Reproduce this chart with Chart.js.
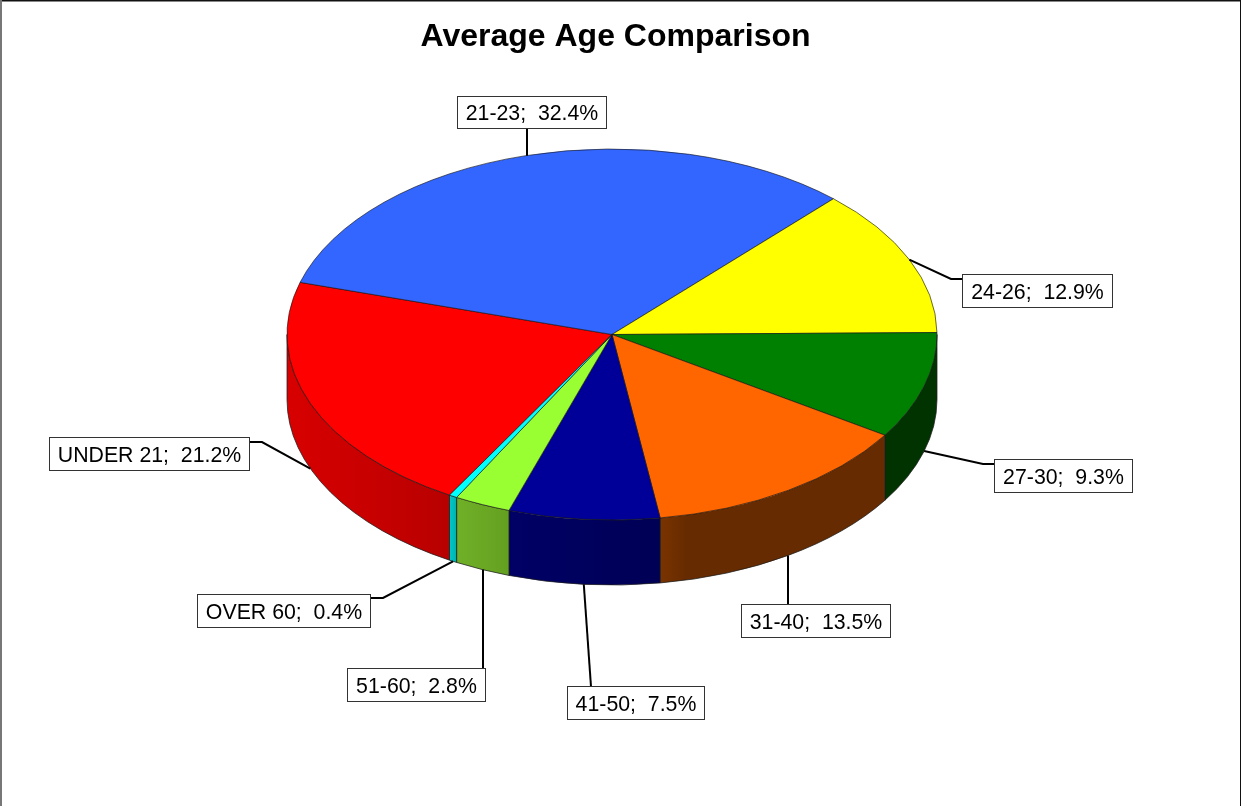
<!DOCTYPE html>
<html>
<head>
<meta charset="utf-8">
<title>Average Age Comparison</title>
<script src="https://cdn.jsdelivr.net/npm/chart.js@4"></script>
<style>
  html, body { margin: 0; padding: 0; background: #fff; overflow: hidden; }
  canvas { display: block; }
</style>
</head>
<body>
<canvas id="myChart" width="1241" height="806"></canvas>
<script>
var categories = ['UNDER 21', '21-23', '24-26', '27-30', '31-40', '41-50', '51-60', 'OVER 60'];
var values = [21.2, 32.4, 12.9, 9.3, 13.5, 7.5, 2.8, 0.4];
var topColors = ['#ff0000', '#3366ff', '#ffff00', '#008000', '#ff6600', '#000099', '#99ff33', '#00ffff'];
var sideLight = ['#d80000', '#3366ff', '#ffff00', '#003300', '#7a3300', '#000066', '#70b028', '#00c8c8'];
var sideDark = ['#b80000', '#3366ff', '#ffff00', '#003300', '#662b00', '#000055', '#64a020', '#00b0b0'];

// label boxes: left, top, right, bottom, then the elbow of the leader line.
var labelBoxes = [
  { box: [49.5, 437.5, 249.5, 470.5], from: [249.5, 442], elbow: [262, 442] },
  { box: [457.5, 96.5, 606.5, 128.5], from: [527, 128.5], elbow: null },
  { box: [962.5, 274.5, 1112.5, 307.5], from: [962.5, 279], elbow: [951, 279] },
  { box: [994.5, 459.5, 1132.5, 492.5], from: [994.5, 464], elbow: [983, 464] },
  { box: [741.5, 604.5, 890.5, 637.5], from: [788, 604.5], elbow: null },
  { box: [567.5, 686.5, 704.5, 719.5], from: [591, 686.5], elbow: null },
  { box: [347.5, 668.5, 485.5, 701.5], from: [483, 668.5], elbow: null },
  { box: [197.5, 594.5, 370.5, 627.5], from: [370.5, 598], elbow: [383, 598] }
];

var centerX = 612, centerY = 334.5, squash = 185.5 / 325, depth = 65;

// total of the slices between 3 o'clock and UNDER 21, the pie starts there.
function startRotation() {
  var before = values[3] + values[4] + values[5] + values[6] + values[7];
  return 89.4 + before * 3.6;
}

// side wall of the slices in the front half of the pie.
function drawSides(chart) {
  var ctx = chart.ctx;
  chart.getDatasetMeta(0).data.forEach(function (arc, i) {
    [0, Math.PI * 2].forEach(function (turn) {
      var a = Math.max(arc.startAngle, turn);
      var b = Math.min(arc.endAngle, turn + Math.PI);
      if (b <= a) return;
      var rx = arc.outerRadius, ry = rx * squash;
      var left = centerX + rx * Math.cos(b), right = centerX + rx * Math.cos(a);
      // shading runs over the whole wall left of center, only a strip at the right.
      var grad = ctx.createLinearGradient(left, 0, right, 0);
      grad.addColorStop(0, sideLight[i]);
      grad.addColorStop((left + right) / 2 < centerX ? 1 : 0.12, sideDark[i]);
      ctx.beginPath();
      ctx.ellipse(centerX, centerY, rx, ry, 0, a, b);
      ctx.ellipse(centerX, centerY + depth, rx, ry, 0, b, a, true);
      ctx.closePath();
      ctx.fillStyle = grad;
      ctx.fill();
      ctx.strokeStyle = 'rgba(30, 30, 30, 0.75)';
      ctx.lineWidth = 1;
      ctx.stroke();
    });
  });
}

// leader lines and boxes, the line starts at the middle of the slice's rim.
function drawLabels(chart) {
  var ctx = chart.ctx;
  chart.getDatasetMeta(0).data.forEach(function (arc, i) {
    var mid = (arc.startAngle + arc.endAngle) / 2;
    var rx = arc.outerRadius, ry = rx * squash;
    var sin = Math.sin(mid);
    var rimX = centerX + rx * Math.cos(mid);
    var rimY = centerY + ry * sin + (sin > 0 ? depth : 0);
    var item = labelBoxes[i];

    ctx.beginPath();
    ctx.moveTo(item.from[0], item.from[1]);
    if (item.elbow) ctx.lineTo(item.elbow[0], item.elbow[1]);
    // vertical leaders keep their own x at the rim.
    if (!item.elbow && i !== 5) rimX = item.from[0];
    ctx.lineTo(rimX, rimY);
    ctx.strokeStyle = '#000';
    ctx.lineWidth = 2;
    ctx.stroke();

    var b = item.box;
    ctx.fillStyle = '#fff';
    ctx.fillRect(b[0], b[1], b[2] - b[0], b[3] - b[1]);
    ctx.strokeStyle = '#333';
    ctx.lineWidth = 1;
    ctx.strokeRect(b[0], b[1], b[2] - b[0], b[3] - b[1]);

    ctx.fillStyle = '#000';
    ctx.font = '21.3px "Liberation Sans"';
    ctx.textAlign = 'center';
    ctx.textBaseline = 'middle';
    ctx.fillText(categories[i] + ';  ' + values[i].toFixed(1) + '%', (b[0] + b[2]) / 2, (b[1] + b[3]) / 2 + 2);
  });
}

var pie3d = {
  id: 'pie3d',
  beforeDatasetsDraw: function (chart) {
    var ctx = chart.ctx;
    var arc = chart.getDatasetMeta(0).data[0];
    drawSides(chart);
    // flatten the library's round pie to the ellipse of the top face.
    ctx.save();
    ctx.translate(centerX, centerY);
    ctx.scale(1, squash);
    ctx.translate(-arc.x, -arc.y);
  },
  afterDatasetsDraw: function (chart) {
    chart.ctx.restore();
    drawLabels(chart);
  },
  beforeDraw: function (chart) {
    var ctx = chart.ctx;
    ctx.fillStyle = '#fff';
    ctx.fillRect(0, 0, chart.width, chart.height);
    ctx.fillStyle = '#111';
    ctx.fillRect(0, 0, chart.width, 1.5);
    ctx.fillRect(chart.width - 1, 0, 1, chart.height);
    ctx.fillStyle = '#777';
    ctx.fillRect(0, 0, 2, chart.height);
  }
};

var chart = new Chart(document.getElementById('myChart'), {
  type: 'pie',
  data: {
    labels: categories,
    datasets: [{
      data: values,
      backgroundColor: topColors,
      borderColor: 'rgba(20, 20, 20, 0.8)',
      borderWidth: 1
    }]
  },
  options: {
    responsive: false,
    animation: false,
    devicePixelRatio: 1,
    rotation: startRotation(),
    radius: 325,
    layout: { padding: { right: 10 } },
    plugins: {
      legend: { display: false },
      tooltip: { enabled: false },
      title: {
        display: true,
        text: 'Average Age Comparison',
        color: '#000',
        font: { family: '"Liberation Sans"', size: 32, weight: 'bold' },
        padding: { top: 18, bottom: 7 }
      }
    }
  },
  plugins: [pie3d]
});
</script>
</body>
</html>
